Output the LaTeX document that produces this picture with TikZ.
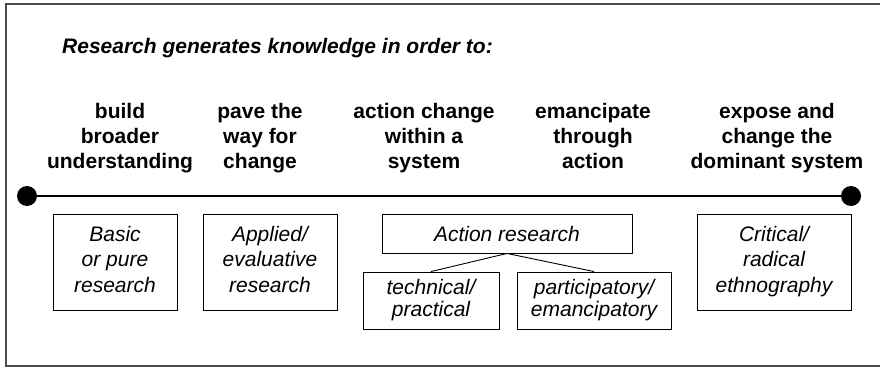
\documentclass[tikz,border=0pt]{standalone}
\usepackage{fontspec}
\setmainfont{Liberation Sans}
\usetikzlibrary{positioning}

\begin{document}
\begin{tikzpicture}[x=1pt,y=-1pt,
		% struts centre the text on its capitals
		aim/.style={font=\bfseries\fontsize{21}{25}\selectfont, align=center, inner sep=0pt,
			execute at begin node=\rule{0pt}{21pt}, execute at end node=\rule[-6pt]{0pt}{6pt}},
		kind/.style={draw, line width=0.9pt, font=\itshape\fontsize{21}{25.5}\selectfont, align=center, inner sep=0pt,
			execute at begin node=\rule{0pt}{21pt}, execute at end node=\rule[-6pt]{0pt}{6pt}},
		subkind/.style={kind, font=\itshape\fontsize{21}{22}\selectfont, minimum height=57pt},
		endpt/.style={circle, fill, inner sep=0pt, minimum size=20pt}]
	
	% ----- Frame (open on the right) -----
	\useasboundingbox (0,0) rectangle (880,369);
	\draw[line width=1.5pt, black!70] (880,4) -- (6,4) -- (6,366) -- (880,366);
	
	% ----- Title -----
	\node[font=\bfseries\itshape\fontsize{21}{25}\selectfont, anchor=base west, inner sep=0pt] (title) at (62,53) {Research generates knowledge in order to:};
	
	% ----- Aims along the line -----
	\node[aim] (understand) at (120,138.5) {build\\broader\\understanding};
	\node[aim] (pave) at (260,138.5) {pave the\\way for\\change};
	\node[aim] (within) at (424,138.5) {action change\\within a\\system};
	\node[aim] (emancipate) at (593,138.5) {emancipate\\through\\action};
	\node[aim] (expose) at (777,138.5) {expose and\\change the\\dominant system};
	
	% ----- Continuum -----
	\node[endpt] (lend) at (27,196) {};
	\node[endpt] (rend) at (851,196) {};
	\draw[line width=2pt] (lend) -- (rend);
	
	% ----- Kinds of research -----
	\node[kind, minimum width=124pt, minimum height=96pt] (basic) at (115,262) {Basic\\or pure\\research};
	\node[kind, minimum width=134pt, minimum height=96pt] (applied) at (270,262) {Applied/\\evaluative\\research};
	\node[kind, minimum width=250pt, minimum height=39pt] (action) at (507,233.5) {Action research};
	\node[subkind, minimum width=136pt] (technical) at (431,300.5) {technical/\\practical};
	\node[subkind, minimum width=154pt] (participatory) at (594,300.5) {participatory/\\emancipatory};
	\node[kind, minimum width=154pt, minimum height=96pt] (critical) at (774,262) {Critical/\\radical\\ethnography};
	
	% Action research splits in two
	\draw[line width=0.9pt] (action.south) -- (technical.north);
	\draw[line width=0.9pt] (action.south) -- (participatory.north);
	
\end{tikzpicture}
\end{document}
